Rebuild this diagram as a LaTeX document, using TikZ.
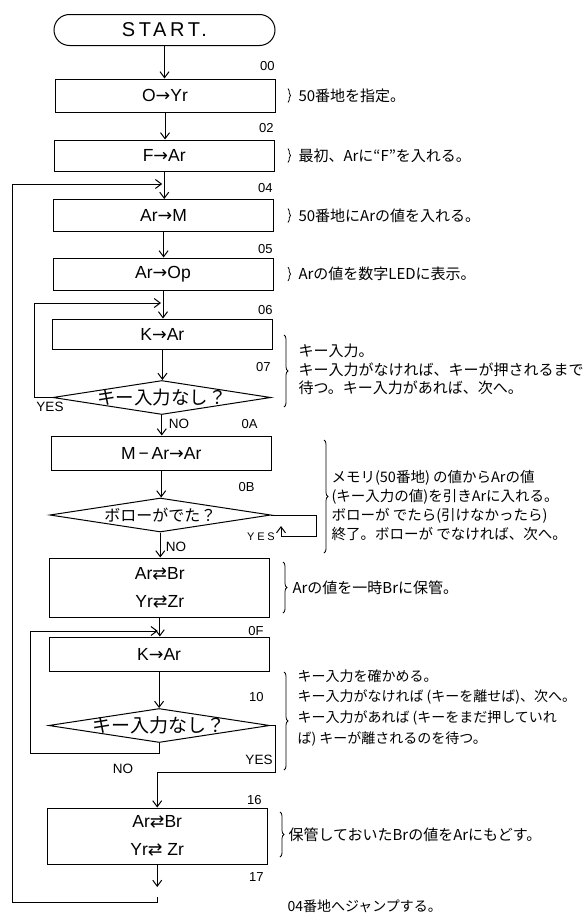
\documentclass[tikz,border=0pt]{standalone}
\usepackage{fontspec}
\setmainfont{Liberation Sans}
\newfontfamily\jpf{Noto Sans CJK JP}
\newfontfamily\dvf{DejaVu Sans}
\usetikzlibrary{arrows.meta,shapes.geometric,decorations.pathreplacing,calc}
\newcommand{\rarr}{{\dvf →}}
\newcommand{\xchg}{{\dvf ⇄}}
\begin{document}
\begin{tikzpicture}[x=1pt,y=-1pt,line width=1pt,
 box/.style={draw,rectangle,minimum width=220pt,inner sep=0pt,align=center,font=\fontsize{17.5}{28}\selectfont},
 term/.style={draw,rectangle,rounded corners=15.5pt,minimum width=221pt,minimum height=31pt,inner sep=0pt,font=\fontsize{20}{20}\selectfont},
 dia/.style={draw,diamond,inner sep=0pt,minimum height=34pt},
 diat/.style={inner sep=0pt,font=\jpf\fontsize{18.5}{19}\selectfont},
 arr/.style={-{Straight Barb[length=6pt,width=9pt]}},
 lbl/.style={anchor=east,inner sep=0pt,font=\fontsize{13}{13}\selectfont},
 yn/.style={inner sep=0pt,font=\fontsize{13.5}{14}\selectfont},
 desc/.style={anchor=west,inner sep=0pt,align=left,font=\jpf\fontsize{15}{19}\selectfont},
 brc/.style={decorate,decoration={brace,amplitude=#1},line width=0.8pt},
 brc/.default=4pt]
\useasboundingbox (0,0) rectangle (584,918);

% ---- main column ----
\node[term] (start) at (164.5,30) {\addfontfeature{LetterSpace=18}START.};
\node[box,minimum height=33pt] (b00) at (165,95.5) {O\rarr Yr};
\node[box,minimum height=31pt] (b02) at (164.2,155.5) {F\rarr Ar};
\node[box,minimum height=32pt] (b04) at (163.6,215.5) {Ar\rarr M};
\node[box,minimum height=32pt] (b05) at (163,274) {Ar\rarr Op};
\node[box,minimum height=30pt] (b06) at (162.4,334) {K\rarr Ar};
\node[dia,minimum width=218pt] (d07) at (161.8,397.5) {};
\node[diat] (d07t) at (d07) {キー入力なし？};
\node[box,minimum height=34pt] (b0A) at (161.2,453) {M\,−\,Ar\rarr Ar};
\node[dia,minimum width=221pt] (d0B) at (160.3,515) {};
\node[diat,font=\jpf\fontsize{16}{16}\selectfont] (d0Bt) at (d0B) {ボローがでた？};
\node[box,minimum height=59pt] (b0C) at (159.8,587.5) {Ar\xchg Br\\Yr\xchg Zr};
\node[box,minimum height=34pt] (b0F) at (159.1,654) {K\rarr Ar};
\node[dia,minimum width=221pt] (d10) at (159.2,725.5) {};
\node[diat,font=\jpf\fontsize{19}{19}\selectfont] (d10t) at (d10) {キー入力なし？};
\node[box,minimum height=56pt] (b16) at (157.2,836) {Ar\xchg Br\\Yr\xchg\ Zr};
\coordinate (tail) at (157.2,887);

% ---- main arrows ----
\draw[arr] (start.south) -- (start.south |- b00.north);
\draw[arr] (b00.south) -- (b00.south |- b02.north);
\draw[arr] (b02.south) -- (b02.south |- b04.north);
\draw[arr] (b04.south) -- (b04.south |- b05.north);
\draw[arr] (b05.south) -- (b05.south |- b06.north);
\draw[arr] (b06.south) -- (b06.south |- d07.north);
\draw[arr] (d07.south) -- (d07.south |- b0A.north);
\draw[arr] (b0A.south) -- (b0A.south |- d0B.north);
\draw[arr] (d0B.south) -- (d0B.south |- b0C.north);
\draw[arr] (b0C.south) -- (b0C.south |- b0F.north);
\draw[arr] (b0F.south) -- (b0F.south |- d10.north);
\draw[arr] (b16.south) -- (tail);

% ---- outer loop (jump to 04) ----
\coordinate (o1) at (12,184);
\coordinate (o2) at (12,902);
\coordinate (o3) at (157.2,902);
\coordinate (o4) at (157.2,897);
\draw[arr] (o4) -- (o3) -- (o2) -- (o1) -- ($(b02.south |- o1)+(-2,0)$);

% ---- inner loop 06/07 ----
\coordinate (i1) at (34,303);
\draw[arr] (d07.west) -- (d07.west -| i1) -- (i1) -- ($(b05.south |- i1)+(-2,0)$);

% ---- YES branch of 0B ----
\coordinate (y1) at (316,536);
\coordinate (y2) at (281,536);
\coordinate (y3) at (281,526);
\draw[arr] (d0B.east) -- (d0B.east -| y1) -- (y1) -- (y2) -- (y3);

% ---- inner loop 0F/10 ----
\coordinate (i2t) at (30,631);
\coordinate (i2b) at (30,753);
\draw[arr] (d10.south) -- (d10.south |- i2b) -- (i2b) -- (i2t) -- ($(b0C.south |- i2t)+(-2,0)$);

% ---- YES branch of 10 ----
\coordinate (z1) at (275,772);
\draw[arr] (d10.east) -- (d10.east -| z1) -- (z1) -- (z1 -| b16.north) -- (b16.north);

% ---- address labels ----
\node[lbl] (l00) at (275,66) {00};
\node[lbl] (l02) at (274,128) {02};
\node[lbl] (l04) at (273,188) {04};
\node[lbl] (l05) at (273,249) {05};
\node[lbl] (l06) at (273,310) {06};
\node[lbl] (l07) at (271,367.5) {07};
\node[lbl] (l0A) at (258,424) {0A};
\node[lbl] (l0B) at (255,487) {0B};
\node[lbl] (l0F) at (264,631) {0F};
\node[lbl] (l10) at (264,697.5) {10};
\node[lbl] (l16) at (262,800) {16};
\node[lbl] (l17) at (264,877.5) {17};

% ---- YES / NO ----
\node[yn] (y07) at (50,407) {YES};
\node[yn] (n07) at (179,424) {NO};
\node[yn] (n0B) at (176,547) {NO};
\node[yn,font=\fontsize{11}{11}\selectfont\addfontfeature{LetterSpace=25}] (y0B) at (261,537) {YES};
\node[yn] (y10) at (259,760) {YES};
\node[yn] (n10) at (123,769) {NO};

% ---- descriptions ----
\draw[brc=2.5pt] (288,88.5) -- (288,102.5);
\node[desc] (t00) at (298,95.5) {50番地を指定。};
\draw[brc=2.5pt] (288,148.5) -- (288,162.5);
\node[desc] (t02) at (298,155.5) {最初、Arに“F”を入れる。};
\draw[brc=2.5pt] (288,208.5) -- (288,222.5);
\node[desc] (t04) at (298,215.5) {50番地にArの値を入れる。};
\draw[brc=2.5pt] (288,267) -- (288,281);
\node[desc] (t05) at (298,274) {Arの値を数字LEDに表示。};

\draw[brc] (284,335) -- (284,407);
\node[desc,font=\jpf\fontsize{15}{18.5}\selectfont] (t07) at (298,369.5)
  {キー入力。\\キー入力がなければ、キーが押されるまで\\待つ。キー入力があれば、次へ。};

\draw[brc] (324,440) -- (324,553);
\node[desc,font=\jpf\fontsize{14.5}{19}\selectfont] (t0B) at (331,505.5)
  {メモリ(50番地) の値からArの値\\(キー入力の値)を引きArに入れる。\\ボローが でたら(引けなかったら)\\終了。ボローが でなければ、次へ。};

\draw[brc] (283,562) -- (283,613);
\node[desc] (t0C) at (292,588) {Arの値を一時Brに保管。};

\draw[brc] (284,672) -- (284,770);
\node[desc,font=\jpf\fontsize{14}{20.8}\selectfont] (t10) at (297,707.75)
  {キー入力を確かめる。\\キー入力がなければ (キーを離せば)、次へ。\\キー入力があれば (キーをまだ押していれ\\ば) キーが離されるのを待つ。};

\draw[brc] (280,812) -- (280,857);
\node[desc] (t16) at (288,835) {保管しておいたBrの値をArにもどす。};

\node[desc,font=\jpf\fontsize{14}{14}\selectfont] (jump) at (287,906) {04番地へジャンプする。};
\end{tikzpicture}
\end{document}
